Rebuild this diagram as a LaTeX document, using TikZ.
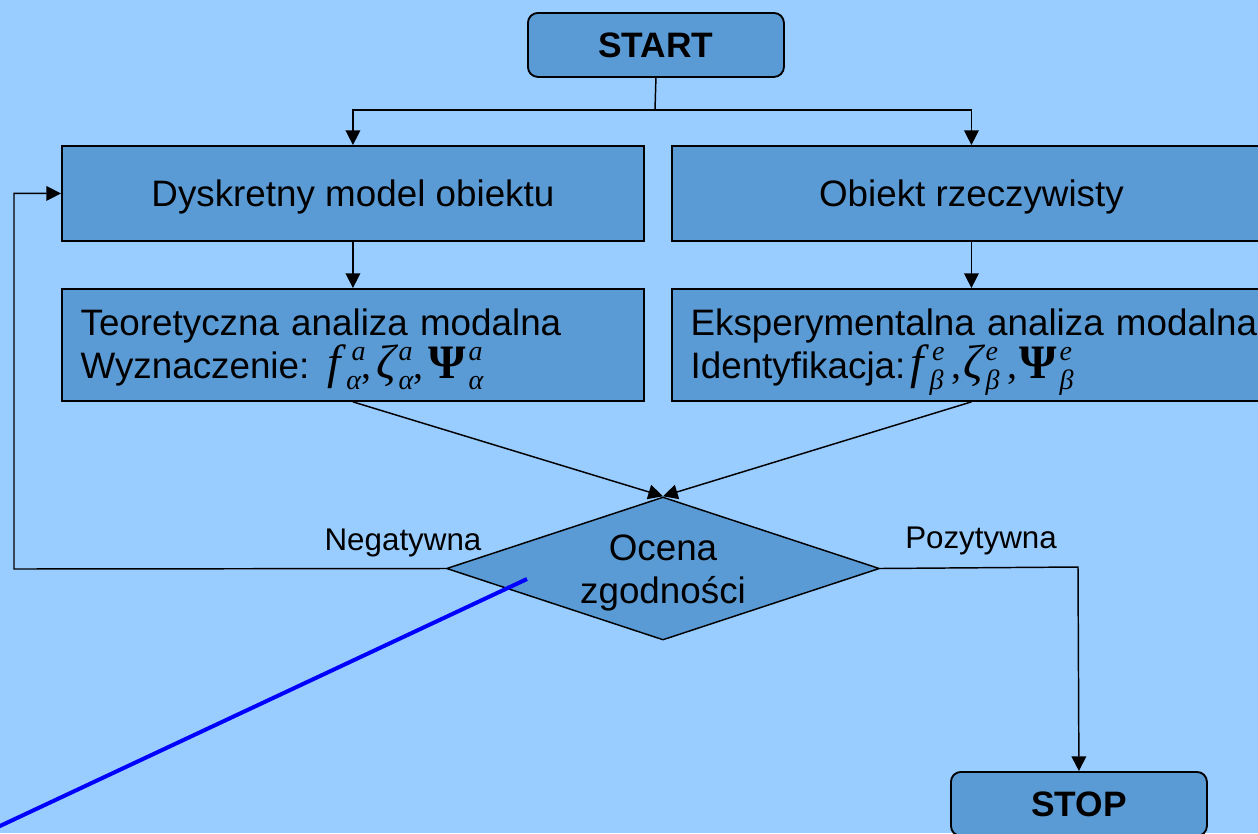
\documentclass[tikz,border=0pt]{standalone}
\usepackage{fontspec}
\setmainfont{Liberation Sans}
\newfontfamily\tnr{Liberation Serif}
\usetikzlibrary{arrows.meta,shapes.geometric}
\definecolor{bgblue}{HTML}{99CCFF}
\definecolor{boxblue}{HTML}{5B9BD5}
\definecolor{penblue}{HTML}{0000FF}
\newcommand\scr[1]{{\tnr\itshape\fontsize{21}{21}\selectfont #1}}
\newcommand\mbase[1]{{\tnr\fontsize{36}{36}\selectfont #1}}
\newcommand\mcomma{{\tnr\fontsize{30}{30}\selectfont ,}}
% base, kern before sup, sup, kern before sub, sub
\newcommand\msym[5]{\mbase{#1}\rlap{\kern#2\raisebox{0.5em}[0pt][0pt]{\scr{#3}}}\kern#4\raisebox{-0.3em}[0pt][0pt]{\scr{#5}}}
\begin{document}
\begin{tikzpicture}[x=0.75pt,y=-0.75pt,
  box/.style={draw=black, line width=1.4pt, fill=boxblue, inner sep=0pt,
    font=\fontsize{27.6}{32}\selectfont},
  term/.style={box, rounded corners=7.5pt, minimum width=192pt, minimum height=48pt,
    font=\fontsize{26.5}{30}\selectfont\bfseries},
  proc/.style={box, minimum height=71.25pt, text depth=0pt},
  anal/.style={box, minimum height=84pt, align=left, inner xsep=14pt},
  dia/.style={diamond, aspect=3.03, draw=black, line width=1.1pt, fill=boxblue, inner sep=0pt,
    minimum width=324.75pt, minimum height=107.25pt, font=\fontsize{27.6}{32}\selectfont},
  conn/.style={draw=black, line width=1.1pt},
  arr/.style={conn, -{Triangle[length=11pt,width=11pt]}},
  lbl/.style={inner sep=0pt, font=\fontsize{23.5}{28}\selectfont},
  pen/.style={draw=penblue, line width=3pt}
]
\clip (0,0) rectangle (1258,833);
\fill[bgblue] (0,0) rectangle (1258,833);

\node[term, anchor=north west] (start) at (527,12) {START};
\node[proc, anchor=north west, minimum width=436.5pt] (dysk) at (61,145) {Dyskretny model obiektu};
\node[proc, anchor=north west, minimum width=449.25pt] (obiekt) at (671,145) {Obiekt rzeczywisty};
\node[anal, anchor=north west, text width=408.5pt] (teor) at (61,288)
  {\rule{0pt}{26pt}Teoretyczna analiza modalna\\
   Wyznaczenie:\hspace{0.5em}\msym{\itshape f}{8pt}{a}{4pt}{α}\mcomma\kern4pt\msym{\itshape ζ}{2pt}{a}{2pt}{α}\mcomma\kern4pt\msym{\bfseries Ψ}{2pt}{a}{2pt}{α}};
\node[anal, anchor=north west, text width=440pt] (eksp) at (671,288)
  {\rule{0pt}{26pt}Eksperymentalna analiza modalna\\
   Identyfikacja:\hspace{0.15em}\msym{\itshape f}{6pt}{e}{4pt}{β}\kern6pt\mcomma\kern1.5pt\msym{\itshape ζ}{2pt}{e}{2pt}{β}\kern6pt\mcomma\kern1.5pt\msym{\bfseries Ψ}{2pt}{e}{2pt}{β}};
\node[dia] (ocena) at (663,568.5)
  {\raisebox{-10pt}[0pt][0pt]{\begin{tabular}{@{}c@{}}Ocena\\zgodności\end{tabular}}};
\node[term, anchor=north west] (stop) at (950,771) {STOP};

\node[lbl] (neg) at (403,543) {Negatywna};
\node[lbl] (poz) at (981,541) {Pozytywna};

\coordinate (split) at (655,110);
\coordinate (negc) at (14,569);
\coordinate (pozc) at (1078,567);
\coordinate (pen1) at (527,579);
\coordinate (pen2) at (-12,831.6);

\draw[conn] (start.south) -- (split);
\draw[arr] (split) -| (dysk.north);
\draw[arr] (split) -| (obiekt.north);
\draw[arr] (dysk.south) -- (teor.north -| dysk.south);
\draw[arr] (obiekt.south) -- (obiekt.south |- eksp.north);
\draw[arr] (teor.south -| dysk.south) -- (ocena.north);
\draw[arr] (obiekt.south |- eksp.south) -- (ocena.north);
\draw[arr] (ocena.west) -- (negc) |- (dysk.west);
\draw[arr] (ocena.east) -- (pozc) -- (stop.north);
\draw[pen] (pen1) -- (pen2);
\end{tikzpicture}
\end{document}
